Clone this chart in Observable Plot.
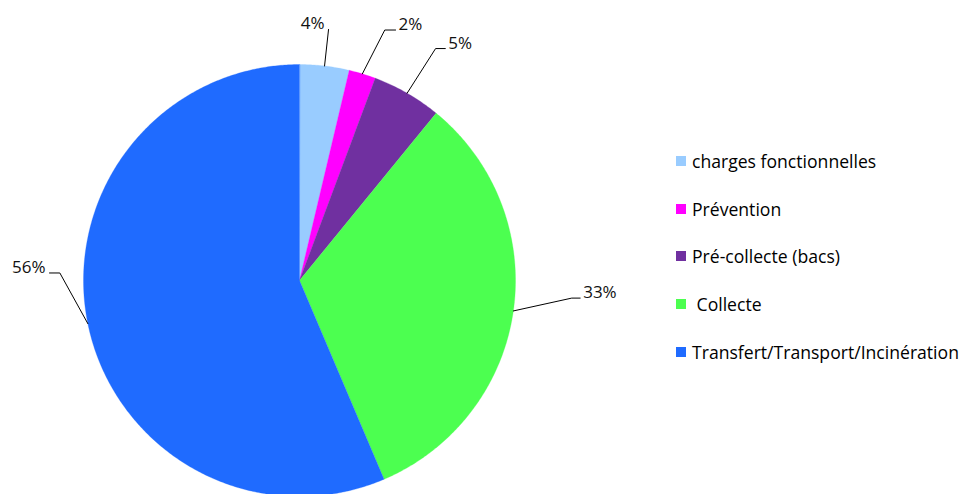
<!DOCTYPE html>
<html><head><meta charset="utf-8">
<script src="https://cdn.jsdelivr.net/npm/d3@7"></script>
<script src="https://cdn.jsdelivr.net/npm/@observablehq/plot@0.6"></script>
<style>
body{margin:0;background:#fff;font-family:"Open Sans",sans-serif;}
#wrap{position:relative;width:967px;height:494px;overflow:hidden}
#legend{position:absolute;left:676px;top:137px;}
.item{display:flex;align-items:center;height:47.8px;font-size:17.6px;color:#000;white-space:pre;}
.sw{width:10px;height:10px;margin-right:6px;flex:none}
</style></head><body><div id="wrap"></div>
<script>
const categories = ["charges fonctionnelles", "Prévention", "Pré-collecte (bacs)", "Collecte", "Transfert/Transport/Incinération"];
const legendLabels = ["charges fonctionnelles", "Prévention", "Pré-collecte (bacs)", " Collecte", "Transfert/Transport/Incinération"];
const values = [3.7, 2.0, 5.2, 32.7, 56.4];
const colors = ["#99CCFF", "#FF00FF", "#7030A0", "#4CFF50", "#1F6BFF"];

// label layout (leader elbow angle in degrees, radius ratio, tail length in radius units)
const labelLayout = [
  {angle: 6.6, r: 1.17, tail: 0, anchor: "end"},
  {angle: 18.8, r: 1.225, tail: 0.05, anchor: "start"},
  {angle: 30.4, r: 1.245, tail: 0.045, anchor: "start"},
  {angle: 93.7, r: 1.263, tail: 0.039, anchor: "start"},
  {angle: 271.8, r: 1.11, tail: -0.048, anchor: "end"}
];

const arcs = d3.pie().sort(null).value(d => d)(values);
const rad = Math.PI / 180;

// slice polygons
const slicePts = [];
arcs.forEach((a, i) => {
  const cat = categories[i];
  slicePts.push({cat, x: 0, y: 0});
  const n = Math.max(2, Math.ceil((a.endAngle - a.startAngle) / (0.5 * rad)));
  for (let k = 0; k <= n; k++) {
    const t = a.startAngle + (a.endAngle - a.startAngle) * k / n;
    slicePts.push({cat, x: Math.sin(t), y: Math.cos(t)});
  }
});

// leader lines and labels
const leaderPts = [];
const labels = [];
arcs.forEach((a, i) => {
  const mid = (a.startAngle + a.endAngle) / 2;
  const L = labelLayout[i];
  const ex = L.r * Math.sin(L.angle * rad), ey = L.r * Math.cos(L.angle * rad);
  leaderPts.push({id: i, x: Math.sin(mid), y: Math.cos(mid)});
  leaderPts.push({id: i, x: ex, y: ey});
  if (L.tail !== 0) leaderPts.push({id: i, x: ex + L.tail, y: ey});
  labels.push({x: ex + L.tail, y: ey, text: Math.round(values[i]) + "%", anchor: L.anchor});
});

const plot = Plot.plot({
  width: 967, height: 494,
  margin: 0,
  x: {domain: [-1, 1], range: [83, 515], axis: null},
  y: {domain: [-1, 1], range: [496, 64], axis: null},
  color: {domain: categories, range: colors},
  style: {fontFamily: "'Open Sans', sans-serif", background: "white"},
  marks: [
    Plot.line(slicePts, {x: "x", y: "y", z: "cat", fill: "cat", stroke: "cat", strokeWidth: 0.3, curve: "linear-closed"}),
    Plot.line(leaderPts, {x: "x", y: "y", z: "id", stroke: "black", strokeWidth: 1}),
    Plot.text(labels.filter(d => d.anchor === "start"), {x: "x", y: "y", text: "text", textAnchor: "start", lineAnchor: "bottom", dx: 3, fontSize: 17, fill: "#111"}),
    Plot.text(labels.filter(d => d.anchor === "end"), {x: "x", y: "y", text: "text", textAnchor: "end", lineAnchor: "bottom", dx: -4, fontSize: 17, fill: "#111"})
  ]
});

const wrap = document.getElementById("wrap");
wrap.appendChild(plot);
const color = plot.scale("color");
const legend = document.createElement("div");
legend.id = "legend";
categories.forEach((c, i) => {
  const item = document.createElement("div");
  item.className = "item";
  const sw = document.createElement("span");
  sw.className = "sw";
  sw.style.background = color.apply(c);
  const tx = document.createElement("span");
  tx.textContent = legendLabels[i];
  item.appendChild(sw); item.appendChild(tx);
  legend.appendChild(item);
});
wrap.appendChild(legend);
</script></body></html>
